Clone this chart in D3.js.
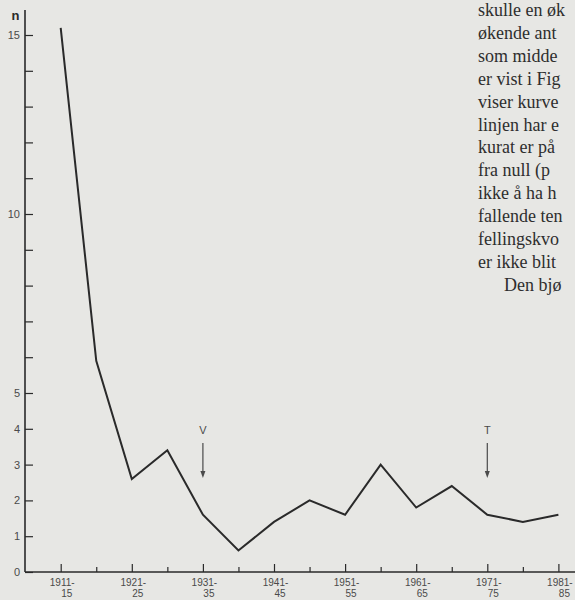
<!DOCTYPE html>
<html>
<head>
<meta charset="utf-8">
<script src="https://cdn.jsdelivr.net/npm/d3@7"></script>
</head>
<body style="margin:0;padding:0;background:#e7e7e4">
<div id="canvas"></div>
<script>
// periods (5-year), values
let periods = ["1911-15","1916-20","1921-25","1926-30","1931-35","1936-40","1941-45","1946-50",
               "1951-55","1956-60","1961-65","1966-70","1971-75","1976-80","1981-85"];
let values = [15.2, 5.9, 2.6, 3.4, 1.6, 0.6, 1.4, 2.0, 1.6, 3.0, 1.8, 2.4, 1.6, 1.4, 1.6];
let yLabels = [0, 1, 2, 3, 4, 5, 10, 15];
let markers = [{period: "1931-35", label: "V"}, {period: "1971-75", label: "T"}];
let textLines = ["skulle en øk", "økende ant", "som midde", "er vist i Fig", "viser kurve",
                 "linjen har e", "kurat er på", "fra null (p", "ikke å ha h", "fallende ten",
                 "fellingskvo", "er ikke blit", "Den bjø"];

let width = 575, height = 600;
let ink = "#2a2a2a", grey = "#4a4a4a";

let svg = d3.select("#canvas").append("svg")
    .attr("width", width)
    .attr("height", height)
    .style("display", "block");

//Scales
let x = d3.scaleLinear().domain([0, periods.length - 1]).range([60.7, 558.4]);
let y = d3.scaleLinear().domain([0, 15]).range([572, 35]);
let axisX = 25;

//Body text column on the right (cut off by the page edge)
svg.selectAll("text.body").data(textLines).enter().append("text")
    .attr("class", "body")
    .attr("x", (d, i) => i === textLines.length - 1 ? 504 : 478)
    .attr("y", (d, i) => 16 + i * 22.9)
    .style("font-family", d => "'Times New Roman'")
    .style("font-size", "18px")
    .attr("fill", "#2e2e2e")
    .text(d => d);

//Y axis: ticks every unit pointing inward, labels only on some
let yAxis = d3.axisLeft(y)
    .tickValues(d3.range(0, 16))
    .tickSizeInner(-8)
    .tickSizeOuter(0)
    .tickPadding(5)
    .tickFormat(d => yLabels.includes(d) ? d : "");
let gy = svg.append("g").attr("transform", "translate(" + axisX + ",0)").call(yAxis);
gy.select(".domain").remove();
gy.selectAll("line").attr("stroke", ink).attr("stroke-width", 1.2);
gy.attr("font-family", "Liberation Sans").attr("font-size", 11);
gy.selectAll("text").attr("fill", grey);
svg.append("line").attr("x1", axisX).attr("x2", axisX).attr("y1", 10).attr("y2", y(0))
    .attr("stroke", ink).attr("stroke-width", 1.6);

svg.append("text").attr("x", 15.5).attr("y", 19.5).attr("text-anchor", "middle")
    .attr("font-family", "Liberation Sans").attr("font-size", 13).attr("font-weight", "bold")
    .attr("fill", ink).text("n");

//X axis
let xAxis = d3.axisBottom(x)
    .tickValues(d3.range(0, periods.length))
    .tickSizeInner(-8)
    .tickSizeOuter(0)
    .tickFormat("");
let gx = svg.append("g").attr("transform", "translate(0," + y(0) + ")").call(xAxis);
gx.select(".domain").remove();
gx.selectAll(".tick line")
    .attr("y2", d => d % 2 === 0 ? -8 : -5)
    .attr("stroke", ink).attr("stroke-width", 1.2);
svg.append("line").attr("x1", axisX).attr("x2", width).attr("y1", y(0)).attr("y2", y(0))
    .attr("stroke", ink).attr("stroke-width", 1.6);

let labelled = periods.map((p, i) => ({p: p, i: i})).filter(d => d.i % 2 === 0);
let xl = svg.append("g").attr("font-family", "Liberation Sans").attr("font-size", 10)
    .selectAll("text").data(labelled).enter().append("text").attr("fill", grey);
xl.append("tspan").attr("x", d => x(d.i) + 1.5).attr("y", 586).attr("text-anchor", "middle")
    .text(d => d.p.split("-")[0] + "-");
xl.append("tspan").attr("x", d => x(d.i) + 6).attr("y", 597).attr("text-anchor", "middle")
    .text(d => d.p.split("-")[1]);

//Data line
let line = d3.line().x((d, i) => x(i)).y(d => y(d));
svg.append("path").datum(values)
    .attr("d", line)
    .attr("fill", "none")
    .attr("stroke", ink)
    .attr("stroke-width", 2)
    .attr("stroke-linejoin", "miter");

//Markers V and T
let mk = svg.append("g").selectAll("g").data(markers).enter().append("g")
    .attr("transform", d => "translate(" + x(periods.indexOf(d.period)) + ",0)");
mk.append("text").attr("y", 434).attr("text-anchor", "middle")
    .attr("font-family", "Liberation Sans").attr("font-size", 11).attr("fill", grey)
    .text(d => d.label);
mk.append("line").attr("x1", 0).attr("x2", 0).attr("y1", 443).attr("y2", 472)
    .attr("stroke", grey).attr("stroke-width", 1.2);
mk.append("path").attr("d", "M-2.5,471L2.5,471L0,478Z").attr("fill", grey);
</script>
</body>
</html>
